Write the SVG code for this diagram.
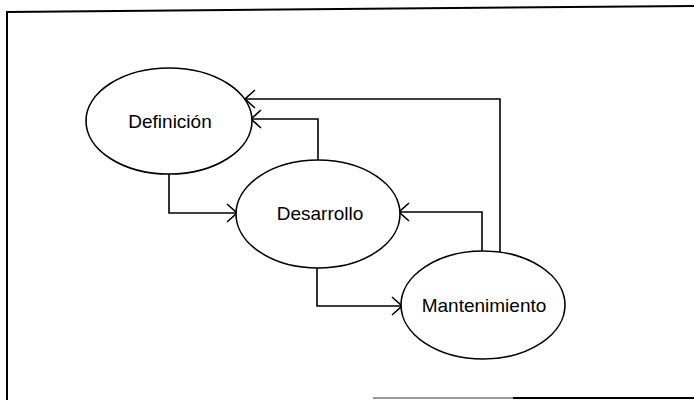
<svg xmlns="http://www.w3.org/2000/svg" width="694" height="400" viewBox="0 0 694 400">
  <style>
    .frame { fill: none; stroke: #000; stroke-width: 2; }
    .node ellipse { fill: #fff; stroke: #000; stroke-width: 1.6; }
    .node text { font-family: "Liberation Sans", Arial, sans-serif; font-size: 19px; fill: #000; text-anchor: middle; }
    .edge { fill: none; stroke: #000; stroke-width: 1.6; marker-end: url(#openArrow); }
  </style>
  <defs>
    <marker id="openArrow" markerUnits="userSpaceOnUse" markerWidth="14" markerHeight="22" viewBox="-12 -11 14 22" refX="0" refY="0" orient="auto">
      <path d="M -9 -9 L 1 0 L -9 9" fill="none" stroke="#000" stroke-width="1.6"/>
    </marker>
  </defs>

  <rect width="694" height="400" fill="#fff"/>

  <!-- outer frame -->
  <g id="frame">
    <path class="frame" d="M 7 12 L 694 6"/>
    <path class="frame" d="M 7 11 L 7 400"/>
    <path d="M 373 398 L 513 398" fill="none" stroke="#999" stroke-width="2"/>
    <path class="frame" d="M 513 398 L 694 398"/>
  </g>

  <!-- connectors -->
  <g id="connectors">
    <path class="edge" d="M 169 174 L 169 213 L 236 213"/>
    <path class="edge" d="M 318 160 L 318 119 L 252 119"/>
    <path class="edge" d="M 500 252 L 500 99 L 246 99"/>
    <path class="edge" d="M 482 251 L 482 212 L 400 212"/>
    <path class="edge" d="M 317 268 L 317 306 L 401 306"/>
  </g>

  <g id="definicion" class="node">
    <ellipse cx="169" cy="121" rx="83" ry="53"/>
    <text x="170" y="127.5">Definición</text>
  </g>

  <g id="desarrollo" class="node">
    <ellipse cx="318" cy="214" rx="82" ry="54"/>
    <text x="320" y="220">Desarrollo</text>
  </g>

  <g id="mantenimiento" class="node">
    <ellipse cx="483" cy="305" rx="82" ry="54"/>
    <text x="484" y="312">Mantenimiento</text>
  </g>
</svg>
